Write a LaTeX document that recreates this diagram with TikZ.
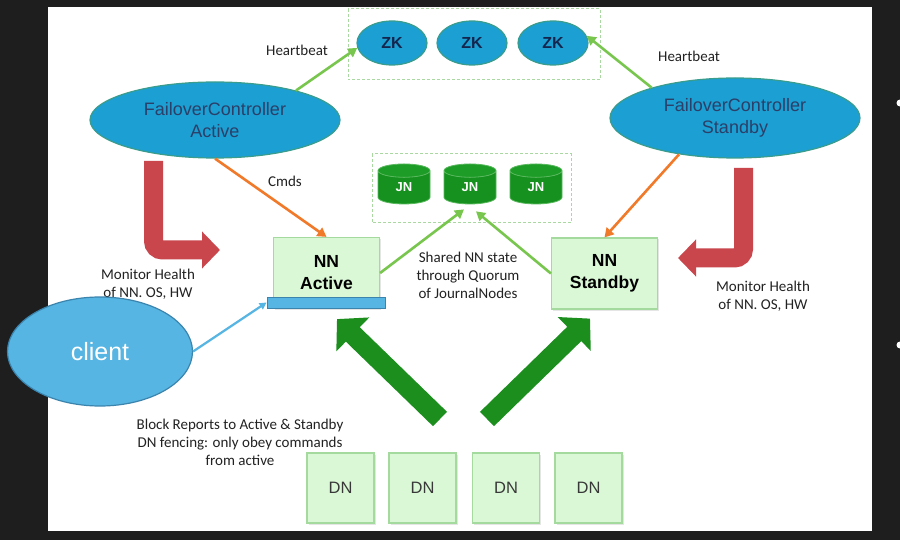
\documentclass[tikz,border=0pt]{standalone}
\usepackage{fontspec}
\setmainfont{Liberation Sans}
\newfontfamily\labelfont{Carlito}
\usetikzlibrary{shapes.geometric,arrows.meta,calc,shadows}

\definecolor{boardbg}{HTML}{1E1E1E}
\definecolor{ovalblue}{HTML}{1C9FD2}
\definecolor{ovaledge}{HTML}{3A9C8C}
\definecolor{ovaltext}{HTML}{14264E}
\definecolor{fctext}{HTML}{2B3F68}
\definecolor{boxfill}{HTML}{DAF8D6}
\definecolor{boxedge}{HTML}{A4DA9E}
\definecolor{jnbody}{HTML}{16901F}
\definecolor{jntop}{HTML}{1E9C28}
\definecolor{jnedge}{HTML}{58B85C}
\definecolor{linkgreen}{HTML}{78C64E}
\definecolor{cmdorange}{HTML}{F07A2A}
\definecolor{healthred}{HTML}{C9464D}
\definecolor{reportgreen}{HTML}{1B8E1E}
\definecolor{dashgreen}{HTML}{A9D8A1}
\definecolor{clientblue}{HTML}{56B5E2}
\definecolor{clientedge}{HTML}{3A84AE}
\definecolor{labelgray}{HTML}{222222}

\begin{document}
\begin{tikzpicture}[x=1pt,y=-1pt,
  oval/.style={ellipse, fill=ovalblue, draw=ovaledge, line width=1.2pt, inner sep=0pt},
  zkoval/.style={oval, minimum width=70pt, minimum height=44pt, text=ovaltext,
    font=\bfseries\fontsize{16}{18}\selectfont},
  fcoval/.style={oval, minimum width=250pt, align=center, text=fctext,
    font=\fontsize{18}{22}\selectfont},
  nnbox/.style={rectangle, fill=boxfill, draw=boxedge, line width=1.2pt,
    minimum width=106pt, minimum height=71pt, align=center, inner sep=0pt,
    font=\bfseries\fontsize{17.5}{22}\selectfont, text=black,
    drop shadow={shadow xshift=1.5pt, shadow yshift=-1.5pt, opacity=0.2}},
  dnbox/.style={rectangle, fill=boxfill, draw=boxedge, line width=1.2pt,
    minimum width=67pt, minimum height=70pt, inner sep=0pt,
    font=\fontsize{16.5}{18}\selectfont, text=labelgray!90,
    drop shadow={shadow xshift=1.5pt, shadow yshift=-1.5pt, opacity=0.2}},
  jncyl/.style={cylinder, shape border rotate=90, aspect=0.8,
    minimum width=52pt, minimum height=40pt, inner sep=0pt,
    cylinder uses custom fill, cylinder body fill=jnbody, cylinder end fill=jntop,
    draw=jnedge, line width=0.8pt, text=white,
    font=\bfseries\fontsize{13}{15}\selectfont},
  groupbox/.style={draw=dashgreen, line width=1pt, dash pattern=on 3pt off 2pt},
  lbl/.style={font=\labelfont\fontsize{15}{18}\selectfont, text=labelgray, align=center, inner sep=0pt},
  link/.style={draw=linkgreen, line width=2.6pt, -{Triangle[length=9pt,width=10pt]}},
  cmd/.style={draw=cmdorange, line width=2.6pt, -{Triangle[length=9pt,width=10pt]}},
  health/.style={draw=healthred, line width=19pt, rounded corners=9pt,
    -{Triangle[length=18pt,width=36pt]}},
  report/.style={draw=reportgreen, line width=20pt,
    -{Triangle[length=22pt,width=46pt]}},
  clientlink/.style={draw=clientblue, line width=2.2pt, -{Triangle[length=7pt,width=7pt]}}
]
\useasboundingbox (0,0) rectangle (900,540);

% board and slide panel
\fill[boardbg] (0,0) rectangle (900,540);
\fill[white] (48,7) rectangle (872,531);
\fill[white] (900,103) circle (3.5pt);
\fill[white] (900,345) circle (3.5pt);

% ZooKeeper ensemble
\draw[groupbox] (348,9) rectangle (600,80);
\node[zkoval] (zk1) at (392,43) {ZK};
\node[zkoval] (zk2) at (472,43) {ZK};
\node[zkoval] (zk3) at (553,43) {ZK};

% failover controllers
\node[fcoval, minimum height=76pt] (fca) at (215,120) {FailoverController\\Active};
\node[fcoval, minimum height=80pt] (fcs) at (735,118) {FailoverController\\Standby};

% journal nodes
\draw[groupbox] (372,154) rectangle (571,223);
\node[jncyl] (jn1) at (404,187.5) {JN};
\node[jncyl] (jn2) at (470,187.5) {JN};
\node[jncyl] (jn3) at (536,187.5) {JN};

% name nodes
\node[nnbox] (nna) at (326.5,273) {NN\\Active};
\node[nnbox] (nns) at (604.5,273.5) {NN\\Standby};
\node[rectangle, fill=clientblue, draw=clientedge, line width=0.8pt,
  minimum width=118pt, minimum height=11pt, inner sep=0pt] (bar) at (326,302.5) {};

% data nodes
\node[dnbox] (dn1) at (340.5,488) {DN};
\node[dnbox] (dn2) at (422.5,488) {DN};
\node[dnbox] (dn3) at (506,488) {DN};
\node[dnbox] (dn4) at (588.5,488) {DN};

% heartbeats and commands
\draw[link] (fca.20) -- (zk1.188);
\draw[link] (fcs.160) -- (zk3.12);
\draw[cmd] (fca.south) -- (nna.north);
\draw[cmd] (fcs.213) -- (nns.north);

% shared edit log
\draw[link] (nna.east) -- ($(jn2.south)+(-6,5)$);
\draw[link] (nns.west) -- ($(jn2.south)+(6,7)$);

% health monitoring
\coordinate (hla) at (153.5,161);
\coordinate (hlb) at (220,250);
\coordinate (hra) at (743.5,168);
\coordinate (hrb) at (678,258);
\draw[health] (hla) |- (hlb);
\draw[health] (hra) |- (hrb);

% block reports
\coordinate (brl) at (440,419);
\coordinate (brr) at (487,419);
\draw[report] (brl) -- ($(nna.south)+(10.5,10)$);
\draw[report] (brr) -- ($(nns.south)+(-14.5,9)$);

% labels
\node[lbl] (hbl) at (297,50) {Heartbeat};
\node[lbl] (hbr) at (689,56) {Heartbeat};
\node[lbl] (cmdl) at (285,181) {Cmds};
\node[lbl] (shl) at (468,275) {Shared NN state\\through Quorum\\of JournalNodes};
\node[lbl] (mhl) at (148,284) {Monitor Health\\of NN. OS, HW};
\node[lbl] (mhr) at (763,296) {Monitor Health\\of NN. OS, HW};
\node[lbl] (brt) at (240,442) {Block Reports to Active \& Standby\\DN fencing: only obey commands\\from active};

% client
\node[ellipse, fill=clientblue, draw=clientedge, line width=1.2pt,
  minimum width=185pt, minimum height=109pt, inner sep=0pt, text=white,
  font=\fontsize{25}{28}\selectfont] (client) at (100,351.5) {client};
\draw[clientlink] (client.east) -- (bar.west);
\end{tikzpicture}
\end{document}
